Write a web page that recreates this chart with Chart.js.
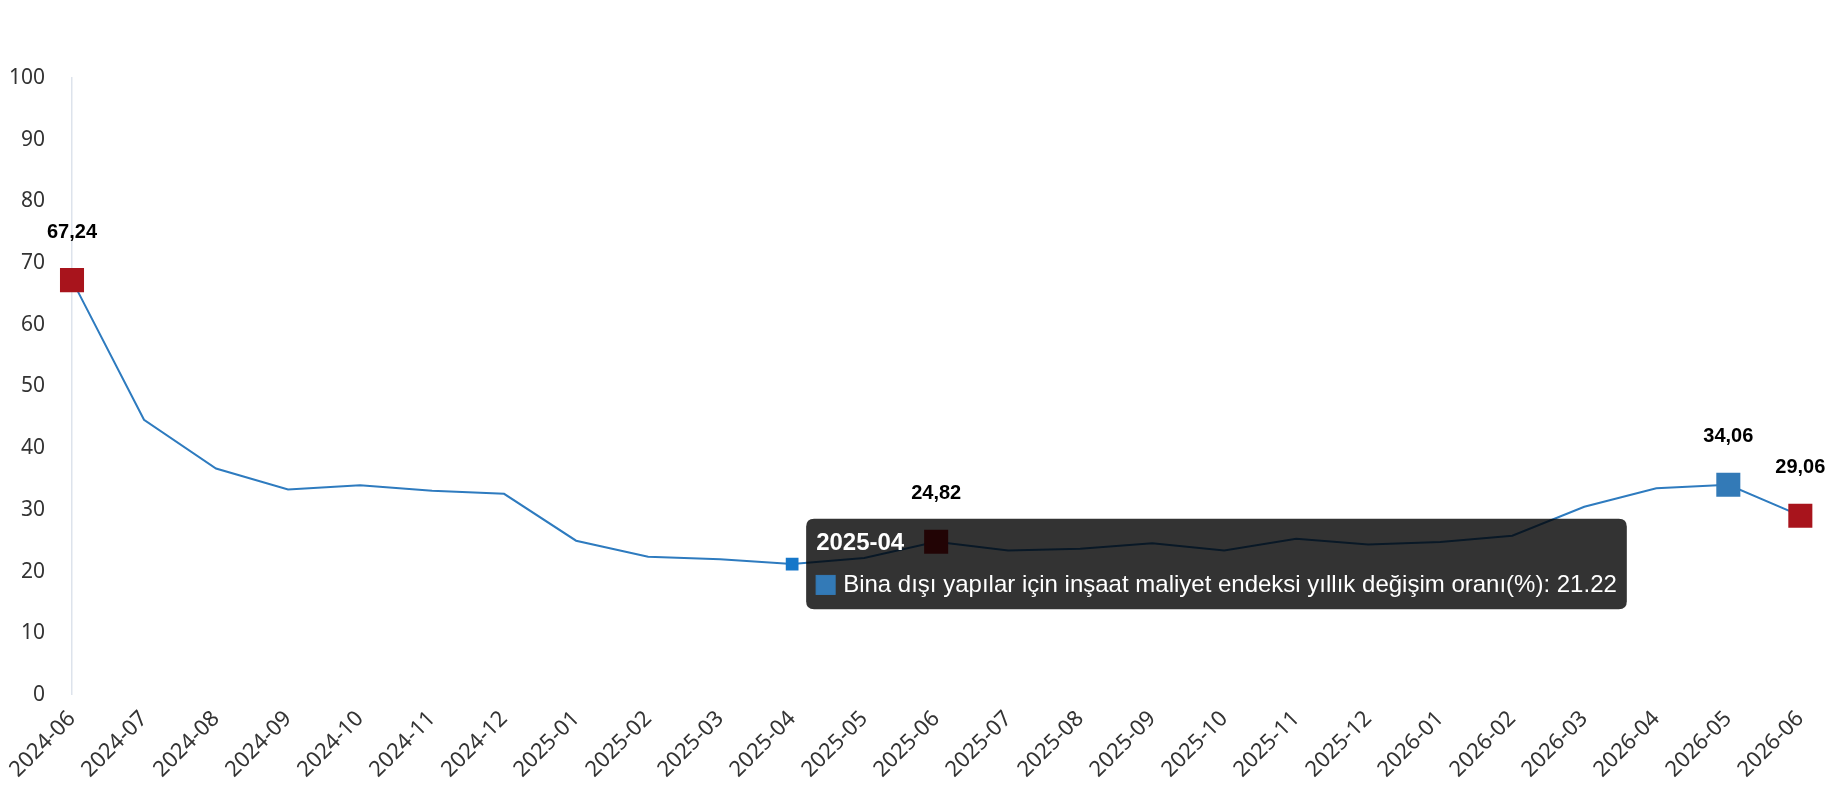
<!DOCTYPE html>
<html lang="tr">
<head>
    <meta charset="UTF-8">
    <title>Bina dışı yapılar için inşaat maliyet endeksi</title>
    <style>
        html, body { margin: 0; padding: 0; background: #fff; }
        #wrap { width: 1830px; height: 800px; position: relative; }
    </style>
    <script src="https://cdn.jsdelivr.net/npm/chart.js"></script>
</head>
<body>
    <div id="wrap"><canvas id="chart"></canvas></div>

    <script>
        const seriesLabel = 'Bina dışı yapılar için inşaat maliyet endeksi yıllık değişim oranı(%)';

        const months = [
            '2024-06', '2024-07', '2024-08', '2024-09', '2024-10', '2024-11', '2024-12',
            '2025-01', '2025-02', '2025-03', '2025-04', '2025-05', '2025-06', '2025-07',
            '2025-08', '2025-09', '2025-10', '2025-11', '2025-12', '2026-01', '2026-02',
            '2026-03', '2026-04', '2026-05', '2026-06'
        ];

        const rates = [
            67.24, 44.6, 36.7, 33.3, 34.0, 33.1, 32.6,
            25.0, 22.4, 22.0, 21.22, 22.2, 24.82, 23.4,
            23.7, 24.6, 23.4, 25.3, 24.4, 24.8, 25.8,
            30.5, 33.5, 34.06, 29.06
        ];

        const yTicks = [0, 10, 20, 30, 40, 50, 60, 70, 80, 90, 100];

        // points that get a big marker + value label
        const markedPoints = [0, 12, 23, 24];
        const markedKind = ['high', 'high', 'low', 'high'];

        // point shown with the tooltip open
        const activeIndex = 10;

        const RED = '#a8141c';
        const BLUE = '#337ab7';
        const LINE = '#2e7bbf';

        function markColor(i) {
            const k = markedPoints.indexOf(i);
            if (k < 0) return LINE;
            return markedKind[k] === 'high' ? RED : BLUE;
        }

        // small inline replacement for the datalabels plugin
        const valueLabels = {
            id: 'valueLabels',
            afterDatasetsDraw(chart) {
                const ctx = chart.ctx;
                const meta = chart.getDatasetMeta(0);
                ctx.save();
                ctx.font = 'bold 20px "Liberation Sans", Arial, sans-serif';
                ctx.fillStyle = '#000';
                ctx.textAlign = 'center';
                ctx.textBaseline = 'middle';
                markedPoints.forEach(i => {
                    const pt = meta.data[i];
                    const txt = rates[i].toFixed(2).replace('.', ',');
                    ctx.fillText(txt, pt.x, pt.y - 48);
                });
                ctx.restore();
            }
        };

        const yFont = { family: '"Noto Sans", "Open Sans", sans-serif', size: 21 };
        const xFont = { family: '"Noto Sans", "Open Sans", sans-serif', size: 22 };

        const chart = new Chart(document.getElementById('chart'), {
            type: 'line',
            data: {
                labels: months,
                datasets: [{
                    label: seriesLabel,
                    data: rates,
                    borderColor: LINE,
                    backgroundColor: LINE,
                    borderWidth: 2,
                    tension: 0,
                    pointStyle: 'rect',
                    pointRadius: ctx => markedPoints.includes(ctx.dataIndex) ? 17 : 0,
                    pointBackgroundColor: ctx => markColor(ctx.dataIndex),
                    pointBorderColor: ctx => markColor(ctx.dataIndex),
                    pointBorderWidth: 0,
                    pointHoverRadius: ctx => markedPoints.includes(ctx.dataIndex) ? 17 : 9,
                    pointHoverBackgroundColor: ctx => markedPoints.includes(ctx.dataIndex) ? markColor(ctx.dataIndex) : '#1677c9',
                    pointHoverBorderColor: ctx => markedPoints.includes(ctx.dataIndex) ? markColor(ctx.dataIndex) : '#1677c9',
                    pointHoverBorderWidth: 0
                }]
            },
            options: {
                responsive: true,
                maintainAspectRatio: false,
                animation: false,
                events: [],
                locale: 'en-US',
                layout: {
                    autoPadding: false,
                    padding: { top: 78, right: 26, bottom: 6, left: 9 }
                },
                scales: {
                    x: {
                        offset: false,
                        grid: { display: false, drawTicks: false },
                        border: { display: false },
                        ticks: {
                            color: '#333',
                            font: xFont,
                            minRotation: 45,
                            maxRotation: 45,
                            autoSkip: false,
                            padding: 11
                        }
                    },
                    y: {
                        min: 0,
                        max: 100,
                        afterBuildTicks: axis => { axis.ticks = yTicks.map(v => ({ value: v })); },
                        // chart.js reserves the tick padding twice; pin the width
                        afterFit: axis => { axis.width = 63; },
                        grid: { display: false, drawTicks: false },
                        border: { display: true, color: '#dde3ec', width: 1.5 },
                        ticks: {
                            color: '#333',
                            font: yFont,
                            padding: 27
                        }
                    }
                },
                plugins: {
                    legend: { display: false },
                    tooltip: {
                        enabled: true,
                        backgroundColor: 'rgba(0,0,0,0.8)',
                        titleColor: '#fff',
                        bodyColor: '#fff',
                        titleFont: { family: '"Liberation Sans", Arial, sans-serif', size: 24, weight: 'bold' },
                        bodyFont: { family: '"Liberation Sans", Arial, sans-serif', size: 24 },
                        titleMarginBottom: 13,
                        padding: 10,
                        cornerRadius: 8,
                        caretSize: 0,
                        caretPadding: 14,
                        xAlign: 'left',
                        yAlign: 'center',
                        boxWidth: 19,
                        boxHeight: 19,
                        boxPadding: 6,
                        multiKeyBackground: BLUE,
                        callbacks: {
                            labelColor: () => ({ borderColor: BLUE, backgroundColor: BLUE, borderWidth: 0 })
                        }
                    }
                }
            },
            plugins: [valueLabels]
        });

        const active = [{ datasetIndex: 0, index: activeIndex }];
        const activePt = chart.getDatasetMeta(0).data[activeIndex];
        chart.setActiveElements(active);
        chart.tooltip.setActiveElements(active, { x: activePt.x, y: activePt.y });
        chart.update('none');
    </script>
</body>
</html>
